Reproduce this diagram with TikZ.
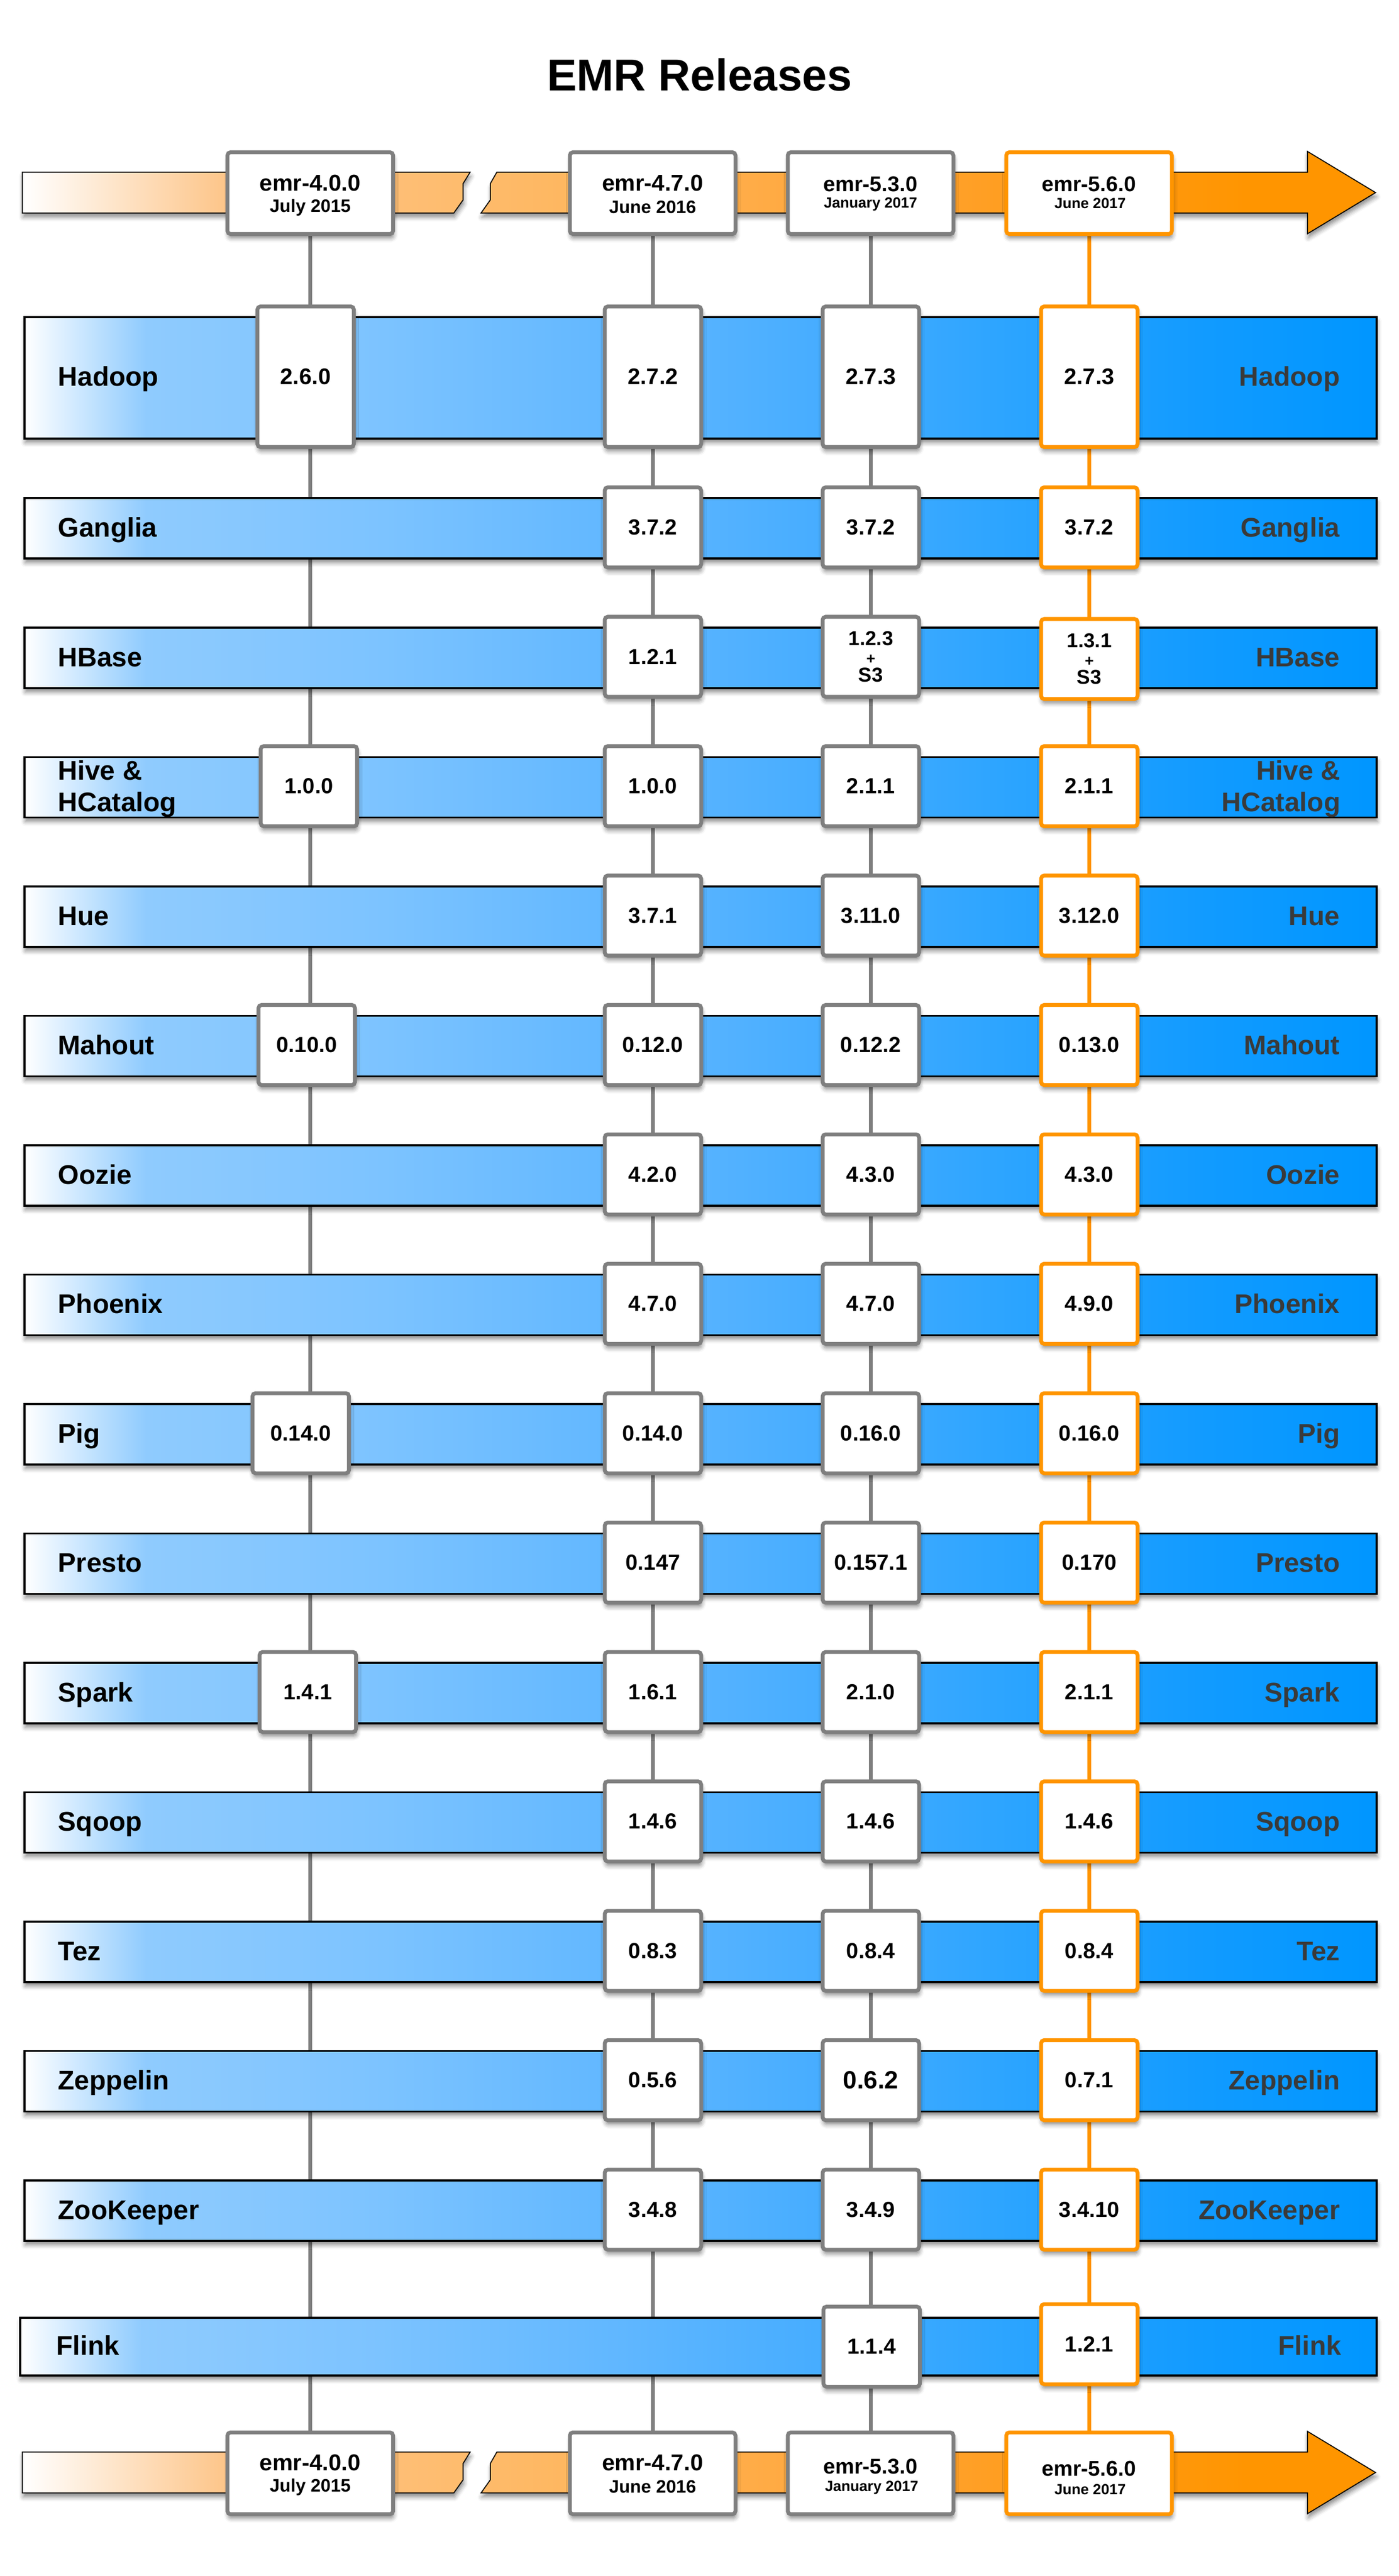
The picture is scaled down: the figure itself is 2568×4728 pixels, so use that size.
\documentclass[tikz,border=0pt]{standalone}
\usepackage{fontspec}
\setmainfont{Liberation Sans}
\usetikzlibrary{shadows.blur}
\pgfdeclarelayer{background}
\pgfsetlayers{background,main}
\definecolor{boxgray}{HTML}{7F7F7F}
\definecolor{emrorange}{HTML}{FF9500}
\definecolor{rgray}{HTML}{3A3A3A}
\definecolor{bA}{HTML}{8FCBFE}
\definecolor{bB}{HTML}{7CC3FF}
\definecolor{bC}{HTML}{63B8FF}
\definecolor{bD}{HTML}{47ADFF}
\definecolor{bE}{HTML}{28A3FF}
\definecolor{bF}{HTML}{129BFF}
\definecolor{bG}{HTML}{0096FF}
\definecolor{oA}{HTML}{FDC68B}
\definecolor{oB}{HTML}{FEB863}
\definecolor{oC}{HTML}{FFA83E}
\definecolor{oD}{HTML}{FF9C1C}
\definecolor{oE}{HTML}{FF9500}
\pgfdeclarehorizontalshading{bandblue}{100bp}{color(0bp)=(white); color(25bp)=(white); color(29.5bp)=(bA); color(38.3bp)=(bB); color(46.3bp)=(bC); color(54.3bp)=(bD); color(62.4bp)=(bE); color(68.4bp)=(bF); color(75bp)=(bG); color(100bp)=(bG)}
\pgfdeclarehorizontalshading{orangeband}{100bp}{color(0bp)=(white); color(25bp)=(white); color(32.4bp)=(oA); color(44.3bp)=(oB); color(54.4bp)=(oC); color(62.4bp)=(oD); color(70.5bp)=(oE); color(75bp)=(oE); color(100bp)=(oE)}
\newcommand\EmrLabFont{\fontsize{14.1pt}{16.5pt}\selectfont\bfseries}
\newcommand\EmrVerFont{\fontsize{11.4pt}{13pt}\selectfont\bfseries}
\newcommand\EmrRelBig{\fontsize{12pt}{14pt}\selectfont\bfseries}
\newcommand\EmrDateBig{\fontsize{9.4pt}{11pt}\selectfont\bfseries}
\newcommand\EmrRelSmall{\fontsize{11.2pt}{13pt}\selectfont\bfseries}
\newcommand\EmrDateSmall{\fontsize{7.7pt}{9pt}\selectfont\bfseries}
\newcommand\EmrArrowPath{(41,316) -- (863,316) -- (850,337) -- (850,367) -- (833,391) -- (41,391) -- cycle
 (912,316) -- (2400,316) -- (2400,278) -- (2525,353.5) -- (2400,429) -- (2400,391) -- (883,391) -- (900,367) -- (900,337) -- cycle}
\newcommand\EmrRow[3]{%
 \node[band] (band-#1) at (43,{#2+2}) {};
 \node[lab] (lab-#1) at (106,{#2+75}) {#3};
 \node[rlab] (rlab-#1) at (2460,{#2+75}) {#3};}
\newcommand\EmrVer[5]{\node[#1] (#2) at (#3,{#4+57.5}) {#5};}
\begin{document}
\begin{tikzpicture}[x=0.1mm,y=-0.1mm,
  every node/.style={inner sep=0pt},
  shad/.style={blur shadow={shadow xshift=0.4pt, shadow yshift=-2.2pt, shadow blur radius=2.2pt, shadow opacity=45}},
  band/.style={rectangle, draw=black, line width=1pt, shade, shading=bandblue, anchor=north west, minimum width=248.2mm, minimum height=11.1mm, shad},
  vbox/.style={rectangle, draw=boxgray, line width=2pt, fill=white, rounded corners=1.6pt, minimum width=17.7mm, minimum height=14.7mm, font=\EmrVerFont, align=center, shad},
  vnew/.style={vbox, draw=emrorange},
  relbox/.style={rectangle, draw=boxgray, line width=2pt, fill=white, rounded corners=1.6pt, minimum width=30.4mm, minimum height=15mm, shad},
  relnew/.style={relbox, draw=emrorange},
  lab/.style={font=\EmrLabFont, anchor=base west},
  rlab/.style={font=\EmrLabFont, text=rgray, anchor=base east},
  gline/.style={draw=boxgray, line width=2pt},
  oline/.style={draw=emrorange, line width=2pt},
  arrowband/.style={draw=black, line width=0.5pt, shade, shading=orangeband, shad},
  relname/.style={anchor=base},
  s3/.style={font=\fontsize{10.5pt}{9.5pt}\selectfont\bfseries}
]
\useasboundingbox (0,0) rectangle (2568,4728);

% title
\node[font=\fontsize{23.3pt}{28pt}\selectfont\bfseries, anchor=base] (title) at (1284,167) {EMR Releases};

% top release arrow
\path[arrowband] \EmrArrowPath;
\node[relbox] (r1t) at (569.5,354.5) {};
\node[relbox] (r2t) at (1198,354.5) {};
\node[relbox] (r3t) at (1598,354.5) {};
\node[relnew] (r4t) at (1999,354.5) {};
\node[relname, font=\EmrRelBig] (r1t-n) at (569.5,351) {emr-4.0.0};
\node[relname, font=\EmrDateBig] (r1t-d) at (569.5,390) {July 2015};
\node[relname, font=\EmrRelBig] (r2t-n) at (1198,351) {emr-4.7.0};
\node[relname, font=\EmrDateBig] (r2t-d) at (1198,392) {June 2016};
\node[relname, font=\EmrRelSmall] (r3t-n) at (1598,352) {emr-5.3.0};
\node[relname, font=\EmrDateSmall] (r3t-d) at (1598,382) {January 2017};
\node[relname, font=\EmrRelSmall] (r4t-n) at (1999,352) {emr-5.6.0};
\node[relname, font=\EmrDateSmall] (r4t-d) at (2001,383) {June 2017};

% Hadoop
\node[band, minimum height=22.3mm] (band-hadoop) at (43,580) {};
\node[lab] (lab-hadoop) at (106,709) {Hadoop};
\node[rlab] (rlab-hadoop) at (2460,709) {Hadoop};
\node[vbox, minimum height=25.8mm, font=\fontsize{11.8pt}{13pt}\selectfont\bfseries] (hadoop-1) at (561,691.5) {2.6.0};
\node[vbox, minimum height=25.8mm, font=\fontsize{11.8pt}{13pt}\selectfont\bfseries] (hadoop-2) at (1198.5,691.5) {2.7.2};
\node[vbox, minimum height=25.8mm, font=\fontsize{11.8pt}{13pt}\selectfont\bfseries] (hadoop-3) at (1598.5,691.5) {2.7.3};
\node[vnew, minimum height=25.8mm, font=\fontsize{11.8pt}{13pt}\selectfont\bfseries] (hadoop-4) at (1999.5,691.5) {2.7.3};

% Ganglia
\EmrRow{ganglia}{910.5}{Ganglia}
\EmrVer{vbox}{ganglia-2}{1198.5}{910.5}{3.7.2}
\EmrVer{vbox}{ganglia-3}{1598.5}{910.5}{3.7.2}
\EmrVer{vnew}{ganglia-4}{1999.5}{910.5}{3.7.2}

% HBase
\EmrRow{hbase}{1148}{HBase}
\EmrVer{vbox}{hbase-2}{1198.5}{1148}{1.2.1}
\EmrVer{vbox,s3}{hbase-3}{1598.5}{1148}{1.2.3\\{\fontsize{8pt}{9.5pt}\selectfont +}\\S3}
\EmrVer{vnew,s3}{hbase-4}{1999.5}{1152}{1.3.1\\{\fontsize{8pt}{9.5pt}\selectfont +}\\S3}

% Hive & HCatalog
\node[band] (band-hive) at (43,1387.5) {};
\node[font=\EmrLabFont, align=left, anchor=north west] (lab-hive) at (106,1395) {Hive \&\\HCatalog};
\node[font=\EmrLabFont, text=rgray, align=right, anchor=north east] (rlab-hive) at (2461,1395) {Hive \&\\HCatalog};
\EmrVer{vbox}{hive-1}{567}{1385.5}{1.0.0}
\EmrVer{vbox}{hive-2}{1198.5}{1385.5}{1.0.0}
\EmrVer{vbox}{hive-3}{1598.5}{1385.5}{2.1.1}
\EmrVer{vnew}{hive-4}{1999.5}{1385.5}{2.1.1}

% Hue
\EmrRow{hue}{1623}{Hue}
\EmrVer{vbox}{hue-2}{1198.5}{1623}{3.7.1}
\EmrVer{vbox}{hue-3}{1598.5}{1623}{3.11.0}
\EmrVer{vnew}{hue-4}{1999.5}{1623}{3.12.0}

% Mahout
\EmrRow{mahout}{1860.5}{Mahout}
\EmrVer{vbox}{mahout-1}{563}{1860.5}{0.10.0}
\EmrVer{vbox}{mahout-2}{1198.5}{1860.5}{0.12.0}
\EmrVer{vbox}{mahout-3}{1598.5}{1860.5}{0.12.2}
\EmrVer{vnew}{mahout-4}{1999.5}{1860.5}{0.13.0}

% Oozie
\EmrRow{oozie}{2098}{Oozie}
\EmrVer{vbox}{oozie-2}{1198.5}{2098}{4.2.0}
\EmrVer{vbox}{oozie-3}{1598.5}{2098}{4.3.0}
\EmrVer{vnew}{oozie-4}{1999.5}{2098}{4.3.0}

% Phoenix
\EmrRow{phoenix}{2335.5}{Phoenix}
\EmrVer{vbox}{phoenix-2}{1198.5}{2335.5}{4.7.0}
\EmrVer{vbox}{phoenix-3}{1598.5}{2335.5}{4.7.0}
\EmrVer{vnew}{phoenix-4}{1999.5}{2335.5}{4.9.0}

% Pig
\EmrRow{pig}{2573}{Pig}
\EmrVer{vbox}{pig-1}{552}{2573}{0.14.0}
\EmrVer{vbox}{pig-2}{1198.5}{2573}{0.14.0}
\EmrVer{vbox}{pig-3}{1598.5}{2573}{0.16.0}
\EmrVer{vnew}{pig-4}{1999.5}{2573}{0.16.0}

% Presto
\EmrRow{presto}{2810.5}{Presto}
\EmrVer{vbox}{presto-2}{1198.5}{2810.5}{0.147}
\EmrVer{vbox}{presto-3}{1598.5}{2810.5}{0.157.1}
\EmrVer{vnew}{presto-4}{1999.5}{2810.5}{0.170}

% Spark
\EmrRow{spark}{3048}{Spark}
\EmrVer{vbox}{spark-1}{565}{3048}{1.4.1}
\EmrVer{vbox}{spark-2}{1198.5}{3048}{1.6.1}
\EmrVer{vbox}{spark-3}{1598.5}{3048}{2.1.0}
\EmrVer{vnew}{spark-4}{1999.5}{3048}{2.1.1}

% Sqoop
\EmrRow{sqoop}{3285.5}{Sqoop}
\EmrVer{vbox}{sqoop-2}{1198.5}{3285.5}{1.4.6}
\EmrVer{vbox}{sqoop-3}{1598.5}{3285.5}{1.4.6}
\EmrVer{vnew}{sqoop-4}{1999.5}{3285.5}{1.4.6}

% Tez
\EmrRow{tez}{3523}{Tez}
\EmrVer{vbox}{tez-2}{1198.5}{3523}{0.8.3}
\EmrVer{vbox}{tez-3}{1598.5}{3523}{0.8.4}
\EmrVer{vnew}{tez-4}{1999.5}{3523}{0.8.4}

% Zeppelin
\EmrRow{zeppelin}{3760.5}{Zeppelin}
\EmrVer{vbox}{zeppelin-2}{1198.5}{3760.5}{0.5.6}
\EmrVer{vbox,font=\fontsize{13pt}{14pt}\selectfont\bfseries}{zeppelin-3}{1598.5}{3760.5}{0.6.2}
\EmrVer{vnew}{zeppelin-4}{1999.5}{3760.5}{0.7.1}

% ZooKeeper
\EmrRow{zookeeper}{3998}{ZooKeeper}
\EmrVer{vbox}{zookeeper-2}{1198.5}{3998}{3.4.8}
\EmrVer{vbox}{zookeeper-3}{1598.5}{3998}{3.4.9}
\EmrVer{vnew}{zookeeper-4}{1999.5}{3998}{3.4.10}

% Flink
\node[band, minimum width=249mm, minimum height=10.6mm] (band-flink) at (35,4252) {};
\node[lab] (lab-flink) at (103,4322) {Flink};
\node[rlab] (rlab-flink) at (2463,4322) {Flink};
\node[vbox] (flink-3) at (1600,4307) {1.1.4};
\node[vnew] (flink-4) at (1999.5,4302.5) {1.2.1};

% bottom release arrow
\begin{scope}[shift={(0,4184.5)}]
\path[arrowband] \EmrArrowPath;
\end{scope}
\node[relbox] (r1b) at (569.5,4539.5) {};
\node[relbox] (r2b) at (1198,4539.5) {};
\node[relbox] (r3b) at (1598,4539.5) {};
\node[relnew] (r4b) at (1999,4539.5) {};
\node[relname, font=\EmrRelBig] (r1b-n) at (569.5,4534) {emr-4.0.0};
\node[relname, font=\EmrDateBig] (r1b-d) at (569.5,4573) {July 2015};
\node[relname, font=\EmrRelBig] (r2b-n) at (1198,4534) {emr-4.7.0};
\node[relname, font=\EmrDateBig] (r2b-d) at (1198,4575) {June 2016};
\node[relname, font=\EmrRelSmall] (r3b-n) at (1598,4540) {emr-5.3.0};
\node[relname, font=\EmrDateSmall] (r3b-d) at (1600,4572) {January 2017};
\node[relname, font=\EmrRelSmall] (r4b-n) at (1999,4544) {emr-5.6.0};
\node[relname, font=\EmrDateSmall] (r4b-d) at (2001,4578) {June 2017};

% release timelines (behind everything)
\begin{pgfonlayer}{background}
\draw[gline] (r1t.south) -- (r1b.north);
\draw[gline] (r2t.south) -- (r2b.north);
\draw[gline] (r3t.south) -- (r3b.north);
\draw[oline] (r4t.south) -- (r4b.north);
\end{pgfonlayer}
\end{tikzpicture}
\end{document}
